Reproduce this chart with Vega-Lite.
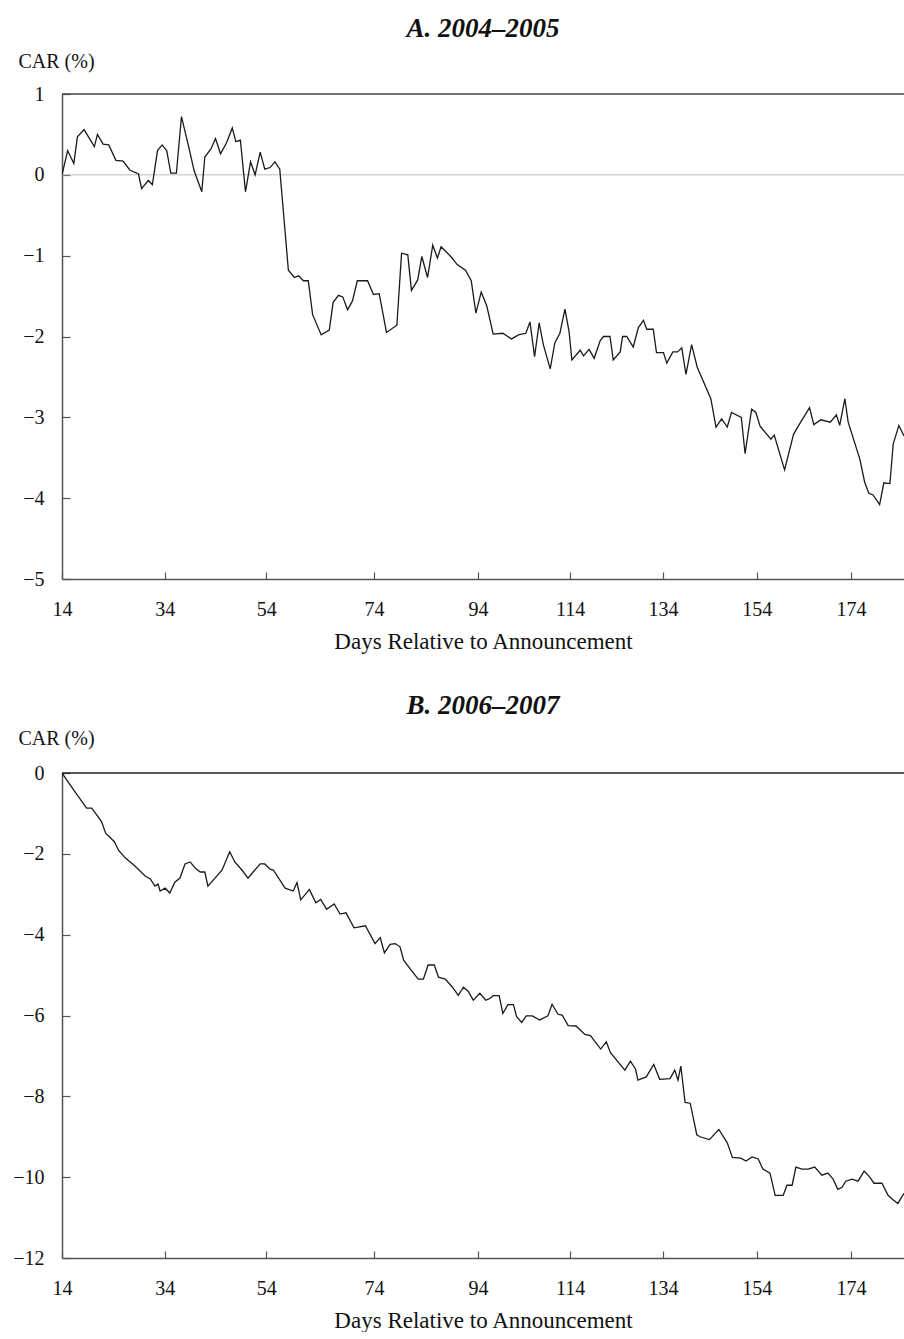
{
  "$schema": "https://vega.github.io/schema/vega-lite/v6.json",
  "autosize": {"type": "pad"},
  "padding": {"left": 12, "top": 15, "right": 0, "bottom": 0},
  "background": "white",
  "spacing": 194,
  "bounds": "flush",
  "config": {
    "view": {"stroke": null},
    "font": "Liberation Serif",
    "axis": {
      "labelFont": "Liberation Serif", "titleFont": "Liberation Serif",
      "labelFontSize": 20, "titleFontSize": 23, "titleFontWeight": "normal",
      "labelColor": "#111", "titleColor": "#111", "grid": false,
      "domainColor": "#555", "domainWidth": 1.5, "tickColor": "#555", "tickWidth": 1.2
    },
    "title": {"font": "Liberation Serif", "fontSize": 27, "fontWeight": "bold", "fontStyle": "italic", "color": "#111", "anchor": "middle", "frame": "group", "offset": 8}
  },
  "datasets": {
    "a": [
      {"day":14,"car":0},{"day":15.1,"car":0.30},{"day":16.3,"car":0.14},{"day":17.0,"car":0.47},{"day":18.3,"car":0.56},{"day":20.3,"car":0.35},{"day":20.9,"car":0.50},{"day":22.0,"car":0.38},{"day":23.1,"car":0.37},{"day":24.5,"car":0.18},{"day":25.9,"car":0.17},{"day":27.2,"car":0.06},{"day":28.9,"car":0.01},{"day":29.5,"car":-0.17},{"day":30.8,"car":-0.07},{"day":31.6,"car":-0.12},{"day":32.6,"car":0.30},{"day":33.5,"car":0.37},{"day":34.4,"car":0.30},{"day":35.2,"car":0.02},{"day":36.3,"car":0.02},{"day":37.3,"car":0.72},{"day":38.6,"car":0.38},{"day":39.8,"car":0.05},{"day":41.3,"car":-0.21},{"day":41.9,"car":0.22},{"day":43.1,"car":0.32},{"day":44.0,"car":0.45},{"day":45.0,"car":0.26},{"day":46.2,"car":0.40},{"day":47.3,"car":0.58},{"day":48.0,"car":0.41},{"day":48.9,"car":0.43},{"day":49.9,"car":-0.21},{"day":50.9,"car":0.16},{"day":51.8,"car":0.00},{"day":52.8,"car":0.28},{"day":53.7,"car":0.07},{"day":54.7,"car":0.09},{"day":55.6,"car":0.16},{"day":56.5,"car":0.07},{"day":58.1,"car":-1.18},{"day":59.2,"car":-1.27},{"day":60.0,"car":-1.25},{"day":60.9,"car":-1.31},{"day":61.8,"car":-1.31},{"day":62.6,"car":-1.73},{"day":64.2,"car":-1.98},{"day":65.7,"car":-1.92},{"day":66.4,"car":-1.58},{"day":67.4,"car":-1.49},{"day":68.2,"car":-1.51},{"day":69.1,"car":-1.67},{"day":70.0,"car":-1.56},{"day":70.9,"car":-1.31},{"day":72.8,"car":-1.31},{"day":73.9,"car":-1.48},{"day":75.0,"car":-1.47},{"day":76.4,"car":-1.95},{"day":78.4,"car":-1.86},{"day":79.3,"car":-0.97},{"day":80.5,"car":-0.99},{"day":81.2,"car":-1.43},{"day":82.4,"car":-1.30},{"day":83.2,"car":-1.01},{"day":84.3,"car":-1.27},{"day":85.3,"car":-0.87},{"day":86.2,"car":-1.03},{"day":86.9,"car":-0.89},{"day":88.0,"car":-0.96},{"day":88.9,"car":-1.02},{"day":90.0,"car":-1.11},{"day":91.6,"car":-1.18},{"day":92.7,"car":-1.31},{"day":93.6,"car":-1.71},{"day":94.7,"car":-1.45},{"day":95.9,"car":-1.62},{"day":97.3,"car":-1.97},{"day":99.4,"car":-1.96},{"day":101.3,"car":-2.03},{"day":102.8,"car":-1.98},{"day":104.4,"car":-1.96},{"day":105.3,"car":-1.82},{"day":106.3,"car":-2.25},{"day":107.3,"car":-1.83},{"day":108.2,"car":-2.10},{"day":109.7,"car":-2.40},{"day":110.7,"car":-2.08},{"day":111.8,"car":-1.96},{"day":112.9,"car":-1.66},{"day":113.8,"car":-1.94},{"day":114.4,"car":-2.29},{"day":116.2,"car":-2.17},{"day":116.9,"car":-2.24},{"day":118.1,"car":-2.16},{"day":119.2,"car":-2.27},{"day":120.5,"car":-2.05},{"day":121.2,"car":-2.00},{"day":122.6,"car":-2.00},{"day":123.3,"car":-2.29},{"day":124.8,"car":-2.19},{"day":125.3,"car":-2.00},{"day":126.2,"car":-2.00},{"day":127.6,"car":-2.13},{"day":128.7,"car":-1.89},{"day":129.8,"car":-1.80},{"day":130.5,"car":-1.91},{"day":131.9,"car":-1.91},{"day":132.6,"car":-2.20},{"day":134.1,"car":-2.20},{"day":134.8,"car":-2.33},{"day":136.1,"car":-2.19},{"day":137.1,"car":-2.19},{"day":138.0,"car":-2.14},{"day":138.9,"car":-2.47},{"day":140.1,"car":-2.10},{"day":141.3,"car":-2.38},{"day":144.2,"car":-2.77},{"day":145.3,"car":-3.12},{"day":146.5,"car":-3.02},{"day":147.7,"car":-3.12},{"day":148.6,"car":-2.94},{"day":150.7,"car":-3.00},{"day":151.5,"car":-3.45},{"day":152.9,"car":-2.90},{"day":153.8,"car":-2.94},{"day":154.7,"car":-3.11},{"day":157.0,"car":-3.27},{"day":157.7,"car":-3.22},{"day":159.9,"car":-3.65},{"day":161.8,"car":-3.21},{"day":162.9,"car":-3.10},{"day":165.2,"car":-2.88},{"day":166.1,"car":-3.09},{"day":167.6,"car":-3.03},{"day":169.6,"car":-3.06},{"day":170.9,"car":-2.97},{"day":171.6,"car":-3.10},{"day":172.7,"car":-2.77},{"day":173.4,"car":-3.06},{"day":175.9,"car":-3.52},{"day":176.9,"car":-3.80},{"day":177.8,"car":-3.94},{"day":178.7,"car":-3.96},{"day":180.1,"car":-4.08},{"day":181.0,"car":-3.81},{"day":182.3,"car":-3.82},{"day":183.0,"car":-3.33},{"day":184.2,"car":-3.10},{"day":185.3,"car":-3.23}
    ],
    "b": [
      {"day":14,"car":0},{"day":16.5,"car":-0.46},{"day":18.8,"car":-0.87},{"day":19.8,"car":-0.87},{"day":21.7,"car":-1.20},{"day":22.5,"car":-1.49},{"day":24.2,"car":-1.70},{"day":25.0,"car":-1.91},{"day":26.3,"car":-2.10},{"day":28.2,"car":-2.30},{"day":30.2,"car":-2.55},{"day":31.2,"car":-2.62},{"day":32.1,"car":-2.80},{"day":32.7,"car":-2.75},{"day":33.1,"car":-2.92},{"day":34.1,"car":-2.85},{"day":35.0,"car":-2.97},{"day":36.0,"car":-2.70},{"day":37.0,"car":-2.60},{"day":38.0,"car":-2.25},{"day":39.0,"car":-2.20},{"day":40.0,"car":-2.35},{"day":41.0,"car":-2.45},{"day":41.9,"car":-2.45},{"day":42.5,"car":-2.80},{"day":43.9,"car":-2.60},{"day":45.3,"car":-2.40},{"day":46.8,"car":-1.95},{"day":47.8,"car":-2.20},{"day":49.2,"car":-2.40},{"day":50.4,"car":-2.60},{"day":51.4,"car":-2.45},{"day":52.8,"car":-2.25},{"day":53.7,"car":-2.25},{"day":54.7,"car":-2.38},{"day":55.3,"car":-2.40},{"day":57.5,"car":-2.85},{"day":59.0,"car":-2.92},{"day":59.7,"car":-2.71},{"day":60.4,"car":-3.14},{"day":62.0,"car":-2.88},{"day":63.2,"car":-3.21},{"day":64.1,"car":-3.13},{"day":65.2,"car":-3.37},{"day":66.6,"car":-3.24},{"day":67.7,"car":-3.49},{"day":68.8,"car":-3.46},{"day":70.3,"car":-3.83},{"day":72.4,"car":-3.78},{"day":74.2,"car":-4.22},{"day":75.2,"car":-4.07},{"day":76.0,"car":-4.45},{"day":77.1,"car":-4.24},{"day":78.1,"car":-4.22},{"day":79.0,"car":-4.30},{"day":79.7,"car":-4.63},{"day":81.0,"car":-4.85},{"day":82.5,"car":-5.10},{"day":83.5,"car":-5.10},{"day":84.4,"car":-4.75},{"day":85.6,"car":-4.75},{"day":86.4,"car":-5.05},{"day":87.7,"car":-5.10},{"day":89.1,"car":-5.30},{"day":90.2,"car":-5.50},{"day":91.2,"car":-5.30},{"day":92.1,"car":-5.40},{"day":93.1,"car":-5.62},{"day":94.4,"car":-5.45},{"day":95.7,"car":-5.62},{"day":96.6,"car":-5.58},{"day":97.3,"car":-5.51},{"day":98.6,"car":-5.51},{"day":99.4,"car":-5.95},{"day":100.5,"car":-5.73},{"day":101.7,"car":-5.73},{"day":102.4,"car":-6.03},{"day":103.5,"car":-6.17},{"day":104.5,"car":-6.01},{"day":105.8,"car":-6.01},{"day":107.4,"car":-6.11},{"day":109.2,"car":-6.01},{"day":110.1,"car":-5.72},{"day":111.4,"car":-5.97},{"day":112.3,"car":-5.99},{"day":113.6,"car":-6.25},{"day":115.3,"car":-6.26},{"day":117.2,"car":-6.47},{"day":118.4,"car":-6.50},{"day":120.6,"car":-6.83},{"day":121.8,"car":-6.65},{"day":122.7,"car":-6.92},{"day":125.8,"car":-7.35},{"day":127.0,"car":-7.13},{"day":128.1,"car":-7.33},{"day":128.6,"car":-7.60},{"day":130.4,"car":-7.52},{"day":132.0,"car":-7.21},{"day":133.3,"car":-7.58},{"day":135.5,"car":-7.56},{"day":136.5,"car":-7.35},{"day":137.2,"car":-7.60},{"day":137.8,"car":-7.25},{"day":138.7,"car":-8.15},{"day":139.8,"car":-8.17},{"day":141.2,"car":-8.95},{"day":141.9,"car":-9.00},{"day":143.9,"car":-9.07},{"day":145.9,"car":-8.82},{"day":147.7,"car":-9.15},{"day":148.8,"car":-9.51},{"day":150.6,"car":-9.53},{"day":151.7,"car":-9.60},{"day":153.0,"car":-9.50},{"day":154.3,"car":-9.55},{"day":155.3,"car":-9.80},{"day":156.8,"car":-9.90},{"day":157.9,"car":-10.45},{"day":159.6,"car":-10.45},{"day":160.4,"car":-10.20},{"day":161.5,"car":-10.20},{"day":162.3,"car":-9.75},{"day":163.6,"car":-9.80},{"day":164.9,"car":-9.80},{"day":166.3,"car":-9.75},{"day":167.8,"car":-9.95},{"day":169.1,"car":-9.90},{"day":170.2,"car":-10.05},{"day":171.2,"car":-10.30},{"day":172.1,"car":-10.25},{"day":172.9,"car":-10.10},{"day":174.2,"car":-10.05},{"day":175.5,"car":-10.10},{"day":176.8,"car":-9.85},{"day":178.0,"car":-10.00},{"day":178.9,"car":-10.15},{"day":180.6,"car":-10.15},{"day":181.9,"car":-10.45},{"day":182.9,"car":-10.55},{"day":184.0,"car":-10.65},{"day":185.3,"car":-10.40}
    ]
  },
  "vconcat": [
    {
      "width": 842, "height": 485,
      "title": {"text": "A. 2004–2005"},
      "layer": [
        {"data": {"values": [{"ref": 0}]}, "mark": {"type": "rule", "color": "#bdbdbd", "strokeWidth": 1}, "encoding": {"y": {"field": "ref", "type": "quantitative"}}},
        {"data": {"values": [{"ref": 1}]}, "mark": {"type": "rule", "color": "#444", "strokeWidth": 1.5}, "encoding": {"y": {"field": "ref", "type": "quantitative"}}},
        {
          "data": {"name": "a"},
          "mark": {"type": "line", "color": "#1a1a1a", "strokeWidth": 1.3, "clip": true},
          "encoding": {
            "x": {"field": "day", "type": "quantitative",
              "scale": {"domain": [14,34,54,74,94,114,134,154,174,185.3], "range": [0,102.7,204.3,312,416,508,601,694.8,789,842], "nice": false, "zero": false},
              "axis": {"values": [14,34,54,74,94,114,134,154,174], "format": "d", "title": "Days Relative to Announcement", "tickSize": -7, "labelPadding": 27, "titlePadding": 11, "labelFlush": false, "labelOverlap": false}},
            "y": {"field": "car", "type": "quantitative",
              "scale": {"domain": [-5, 1], "nice": false, "zero": false},
              "axis": {"values": [-5,-4,-3,-2,-1,0,1], "format": "d", "title": "CAR (%)", "titleAngle": 0, "titleAlign": "left", "titleBaseline": "middle", "titleX": -44, "titleY": -33, "titleFontSize": 20, "tickSize": -8, "labelPadding": 26}}
          }
        }
      ]
    },
    {
      "width": 842, "height": 485,
      "title": {"text": "B. 2006–2007"},
      "layer": [
        {"data": {"values": [{"ref": 0}]}, "mark": {"type": "rule", "color": "#222", "strokeWidth": 1.5}, "encoding": {"y": {"field": "ref", "type": "quantitative"}}},
        {
          "data": {"name": "b"},
          "mark": {"type": "line", "color": "#1a1a1a", "strokeWidth": 1.3, "clip": true},
          "encoding": {
            "x": {"field": "day", "type": "quantitative",
              "scale": {"domain": [14,34,54,74,94,114,134,154,174,185.3], "range": [0,102.7,204.3,312,416,508,601,694.8,789,842], "nice": false, "zero": false},
              "axis": {"values": [14,34,54,74,94,114,134,154,174], "format": "d", "title": "Days Relative to Announcement", "tickSize": -7, "labelPadding": 27, "titlePadding": 11, "labelFlush": false, "labelOverlap": false}},
            "y": {"field": "car", "type": "quantitative",
              "scale": {"domain": [-12, 0], "nice": false, "zero": false},
              "axis": {"values": [-12,-10,-8,-6,-4,-2,0], "format": "d", "title": "CAR (%)", "titleAngle": 0, "titleAlign": "left", "titleBaseline": "middle", "titleX": -44, "titleY": -35, "titleFontSize": 20, "tickSize": -8, "labelPadding": 26}}
          }
        }
      ]
    }
  ]
}
